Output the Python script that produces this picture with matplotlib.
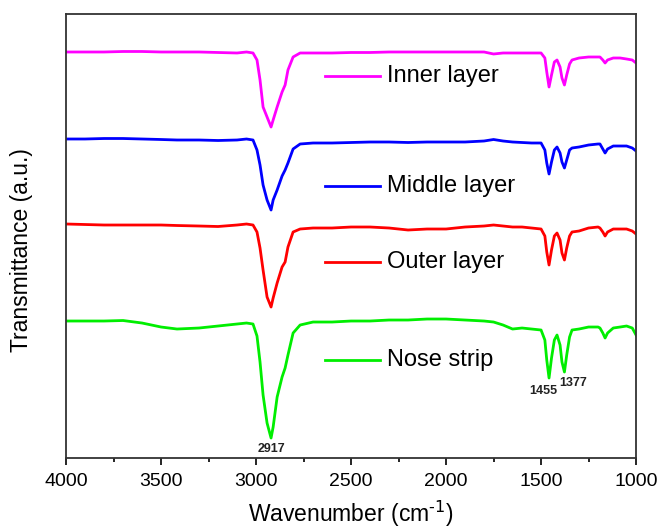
import matplotlib as mpl
mpl.use('Agg')
import matplotlib.pyplot as plt
from matplotlib.ticker import MultipleLocator

plt.rcParams['font.family'] = ['Liberation Sans', 'DejaVu Sans']

wn = [4000, 3900, 3800, 3700, 3600, 3500, 3416, 3300, 3200, 3100,
      3050, 3016, 2995, 2979, 2963, 2942, 2921, 2910, 2889, 2863,
      2847, 2832, 2805, 2768, 2700, 2600, 2500, 2400, 2300, 2200,
      2100, 2000, 1900, 1800, 1750, 1700, 1650, 1600, 1550, 1500,
      1480, 1470, 1458, 1445, 1430, 1416, 1400, 1390, 1377, 1365,
      1350, 1337, 1300, 1250, 1200, 1190, 1175, 1163, 1150, 1120,
      1084, 1050, 1020, 1000]

# offset transmittance (a.u.)
inner = [406, 406, 406, 406.5, 406.5, 406, 406, 406, 405.5, 405,
         406, 405, 398, 378, 351, 341, 331, 338, 351, 366,
         373, 388, 401, 405, 405, 405, 405.5, 405.5, 406, 406,
         406, 406, 406, 406, 404, 405, 405, 405, 405, 405,
         400, 386, 371, 383, 396, 398, 391, 380, 373, 383,
         394, 398, 400, 401, 401, 401, 398, 395, 398, 400,
         400, 399, 398, 395]
middle = [319, 319, 319.5, 319.5, 319, 318.5, 318, 318, 317.5, 318,
          319, 318, 308, 293, 273, 258, 248, 258, 268, 282,
          288, 295, 309, 314, 315, 315, 315.5, 316, 316, 315.5,
          316, 316, 316, 317, 318.5, 317, 316, 315.5, 315, 315,
          308, 295, 284, 296, 308, 311, 305, 296, 290, 298,
          308, 310, 311, 313, 314, 314, 309, 305, 309, 312,
          312, 312, 310, 307]
outer = [234, 233.5, 233, 233, 233, 233, 232.5, 232, 231.5, 233,
         234, 233, 226, 210, 188, 161, 151, 160, 175, 191,
         196, 211, 226, 229, 230, 230, 231, 231, 230, 228,
         229, 229, 231, 232, 233, 232, 231, 231, 230, 229,
         222, 206, 193, 208, 222, 225, 218, 205, 198, 210,
         222, 226, 227, 230, 231, 230, 226, 222, 226, 229,
         229, 229, 227, 224]
nose = [137, 137, 137, 137.5, 135, 131, 129, 130, 132, 134,
        135, 134, 122, 96, 63, 35, 20, 31, 61, 81,
        90, 103, 125, 133, 136, 136, 137, 137, 138, 138,
        139, 139, 138, 137, 136, 133, 129, 130, 129, 128,
        118, 98, 80, 100, 118, 123, 113, 96, 86, 103,
        121, 128, 129, 131, 131, 130, 125, 120, 125, 130,
        131, 132, 130, 123]

names = ['Inner layer', 'Middle layer', 'Outer layer', 'Nose strip']
colors = ['#ff00ff', '#0000ff', '#ff0000', '#00ee00']
series = [inner, middle, outer, nose]
legend_y = [0.860, 0.613, 0.441, 0.221]

# peak labels: text, position (wavenumber, a.u.)
peaks = ['2917', '1455', '1377']
peak_x = [2917, 1489, 1332]
peak_y = [9, 67, 75]

fig = plt.figure(figsize=(6.59, 5.30), dpi=100)
ax = fig.add_axes([0.1002, 0.1358, 0.865, 0.8378])

for ys, c in zip(series, colors):
    ax.plot(wn, ys, color=c, lw=2.0, solid_joinstyle='round')

for name, c, ly in zip(names, colors, legend_y):
    ax.plot([0.454, 0.551], [ly, ly], color=c, lw=2.0, transform=ax.transAxes)
    ax.text(0.563, ly, name, fontsize=17, va='center', ha='left',
            transform=ax.transAxes)

for t, px, py in zip(peaks, peak_x, peak_y):
    ax.text(px, py, t, fontsize=9, fontweight='bold', ha='center', va='center',
            color='#222222')

ax.set_xlim(4000, 1000)
ax.set_ylim(0, 444)
ax.xaxis.set_major_locator(MultipleLocator(500))
ax.xaxis.set_minor_locator(MultipleLocator(250))
ax.tick_params(axis='x', which='major', direction='out', length=5, width=1.2,
               labelsize=14, pad=6)
ax.tick_params(axis='x', which='minor', direction='out', length=3, width=1.2)
ax.set_yticks([])
for s in ax.spines.values():
    s.set_linewidth(1.3)
    s.set_color('#333333')

ax.set_xlabel(r'Wavenumber (cm$^{\text{-1}}$)', fontsize=16.5, labelpad=6)
ax.set_ylabel('Transmittance (a.u.)', fontsize=16.5)
ax.yaxis.set_label_coords(-0.058, 0.468)

fig.savefig('out.png', dpi=100)
